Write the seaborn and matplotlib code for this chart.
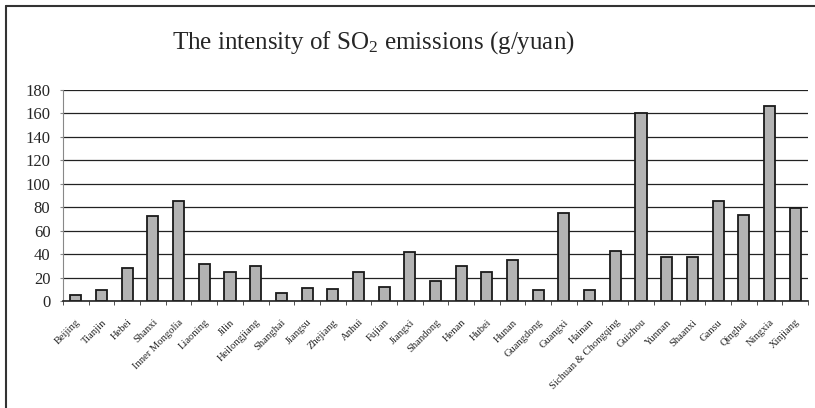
import matplotlib
matplotlib.use("Agg")
import matplotlib.pyplot as plt
import seaborn as sns
import pandas as pd
import numpy as np
from matplotlib.lines import Line2D
from matplotlib.ticker import FixedLocator

# DATA
provinces = ["Beijing", "Tianjin", "Hebei", "Shanxi", "Inner Mongolia", "Liaoning",
             "Jilin", "Heilongjiang", "Shanghai", "Jiangsu", "Zhejiang", "Anhui",
             "Fujian", "Jiangxi", "Shandong", "Henan", "Hubei", "Hunan", "Guangdong",
             "Guangxi", "Hainan", "Sichuan & Chongqing", "Guizhou", "Yunnan", "Shaanxi",
             "Gansu", "Qinghai", "Ningxia", "Xinjiang"]
intensity = [5, 9.5, 28.5, 72.8, 85, 31.6, 24.5, 30, 7.1, 10.8, 10.5, 24.7,
             12.2, 41.8, 17.1, 30.1, 24.5, 35, 9.1, 75.3, 9.4, 42.6, 160.6,
             37.8, 37.8, 85, 73.4, 166.3, 79]
yticks = [0, 20, 40, 60, 80, 100, 120, 140, 160, 180]

df = pd.DataFrame({"province": provinces, "intensity": intensity})

sns.set_style("white")
plt.rcParams["font.family"] = ["Liberation Serif", "DejaVu Serif"]
plt.rcParams["mathtext.fontset"] = "custom"
plt.rcParams["mathtext.rm"] = "Liberation Serif"
plt.rcParams["mathtext.default"] = "regular"

fig = plt.figure(figsize=(8.15, 4.08), dpi=100)
ax = fig.add_axes([63 / 815, 1 - 301 / 408, 745 / 815, 211 / 408])

sns.barplot(data=df, x="province", y="intensity", color="#b3b3b3",
            edgecolor="#1a1a1a", linewidth=1.3, width=0.43, saturation=1, ax=ax)

# GRID
ax.set_ylim(0, 180)
ax.set_xlim(-0.5, len(provinces) - 0.5)
ax.set_yticks(yticks)
ax.yaxis.grid(True, color="#222222", linewidth=0.9)
ax.set_axisbelow(True)
for s in ["top", "right"]:
    ax.spines[s].set_visible(False)
ax.spines["left"].set_color("#888888")
ax.spines["bottom"].set_color("#222222")
ax.spines["bottom"].set_linewidth(1.2)

# TICKS
ax.xaxis.set_minor_locator(FixedLocator(np.arange(-0.5, len(provinces), 1.0)))
ax.tick_params(axis="x", which="major", length=0, pad=12)
ax.tick_params(axis="x", which="minor", length=3, direction="out", color="#333333",
               bottom=True)
ax.tick_params(axis="y", which="major", length=2, labelsize=12, pad=7, left=True,
               color="#888888")
ax.set_xticks(range(len(provinces)))
ax.set_xticklabels(provinces, rotation=45, ha="right", rotation_mode="anchor",
                   fontsize=7.6)
ax.set_xlabel("")
ax.set_ylabel("")

# TITLE + FRAME
fig.text(0.458, 1 - 43 / 408, "The intensity of SO$_2$ emissions (g/yuan)",
         ha="center", va="center", fontsize=18)
fig.add_artist(Line2D([5.5 / 815, 5.5 / 815], [0, 1 - 5.5 / 408],
                      transform=fig.transFigure, color="#333333", linewidth=1.5))
fig.add_artist(Line2D([5.5 / 815, 1], [1 - 5.5 / 408, 1 - 5.5 / 408],
                      transform=fig.transFigure, color="#333333", linewidth=1.5))

fig.savefig("out.png", dpi=100)
